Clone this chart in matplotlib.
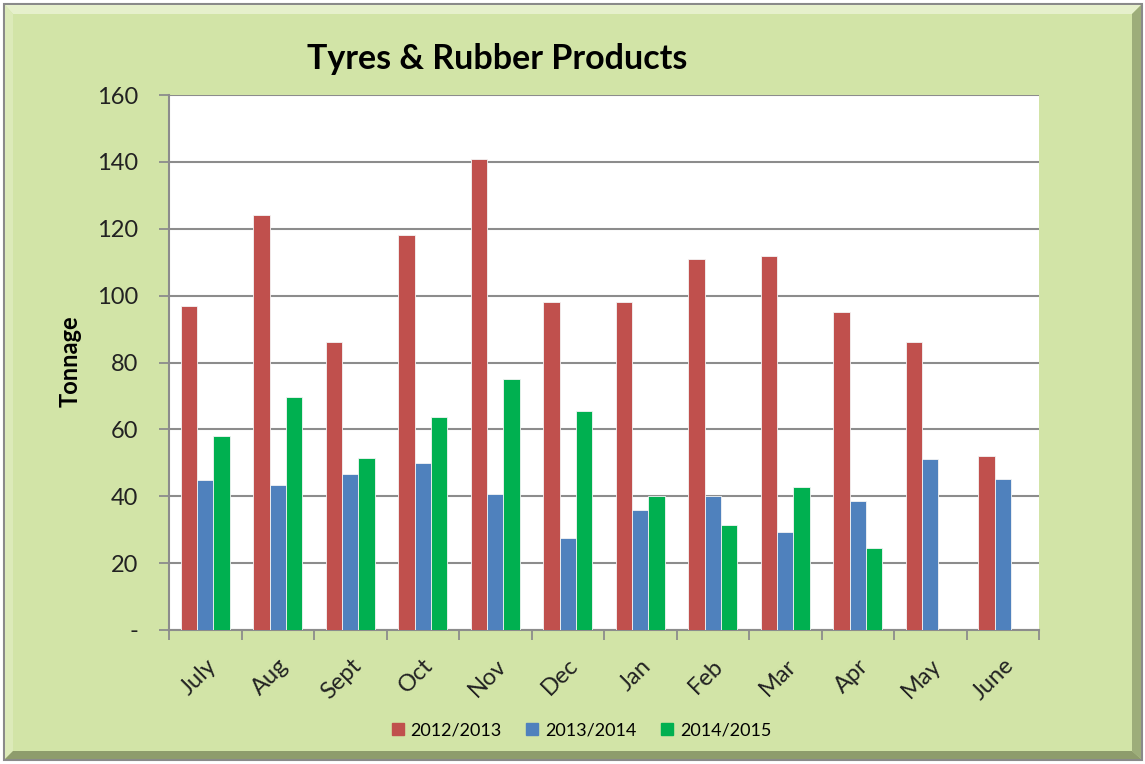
import matplotlib
matplotlib.use("Agg")
import matplotlib.pyplot as plt
from matplotlib.patches import Polygon, Rectangle
from matplotlib.lines import Line2D
import numpy as np

months = ["July", "Aug", "Sept", "Oct", "Nov", "Dec", "Jan", "Feb", "Mar", "Apr", "May", "June"]
s2012 = [97, 124, 86, 118, 141, 98, 98, 111, 112, 95, 86, 52]
s2013 = [45, 43.3, 46.7, 50, 40.6, 27.6, 36, 40, 29.2, 38.6, 51, 45.2]
s2014 = [58, 69.6, 51.4, 63.6, 75, 65.4, 40, 31.3, 42.8, 24.5, None, None]
series_names = ["2012/2013", "2013/2014", "2014/2015"]
colors = ["#C0504D", "#4F81BD", "#00B050"]
yticks = [0, 20, 40, 60, 80, 100, 120, 140, 160]
ytick_labels = ["-", "20", "40", "60", "80", "100", "120", "140", "160"]

W, H = 1145, 764
fig = plt.figure(figsize=(W / 100, H / 100), dpi=100)
fig.patch.set_facecolor("white")

def fx(px):
    return px / W

def fy(py):
    return 1 - py / H

bg = "#D2E4A7"
# frame
fig.patches.append(Rectangle((fx(4), fy(760)), fx(1138), 756 / H, transform=fig.transFigure,
                             facecolor=bg, edgecolor="#8A8A8A", lw=1.5, zorder=-10))
o = dict(L=5, T=5, R=1141, B=759)
i = dict(L=13, T=14, R=1132, B=751)
def poly(pts, color):
    fig.patches.append(Polygon([(fx(x), fy(y)) for x, y in pts], closed=True,
                               transform=fig.transFigure, facecolor=color, edgecolor="none", zorder=-9))
poly([(o['L'], o['T']), (o['R'], o['T']), (i['R'], i['T']), (i['L'], i['T'])], "#E6F0CC")
poly([(o['L'], o['T']), (i['L'], i['T']), (i['L'], i['B']), (o['L'], o['B'])], "#DCEAB9")
poly([(o['R'], o['T']), (o['R'], o['B']), (i['R'], i['B']), (i['R'], i['T'])], "#9DAD7A")
poly([(o['L'], o['B']), (i['L'], i['B']), (i['R'], i['B']), (o['R'], o['B'])], "#8E9C6C")

ax = fig.add_axes([fx(169), fy(630), fx(1039) - fx(169), (630 - 95) / H])
ax.set_facecolor("white")

x = np.arange(len(months))
bw = 0.223
for k, (vals, c) in enumerate(zip([s2012, s2013, s2014], colors)):
    xs = [xi + (k - 1) * bw for xi, v in zip(x, vals) if v is not None]
    vs = [v for v in vals if v is not None]
    ax.bar(xs, vs, width=bw, color=c, edgecolor="#F4F4F4", linewidth=0.6, zorder=3)

ax.set_xlim(-0.5, len(months) - 0.5)
ax.set_ylim(0, 160)
ax.set_yticks(yticks)
ax.set_yticklabels(ytick_labels, fontsize=17, family="Lato", color="#222222")
ax.yaxis.grid(True, color="#8C8C8C", lw=1.5, zorder=1)
ax.tick_params(axis="y", length=7, width=1.3, color="#8C8C8C", pad=15)

ax.set_xticks(x)
ax.set_xticklabels(months, rotation=45, ha="right", va="top", rotation_mode="anchor",
                   fontsize=17, family="Lato", color="#222222")
ax.tick_params(axis="x", which="major", length=0, pad=18)
ax.set_xticks(np.arange(-0.5, len(months)), minor=True)
ax.tick_params(axis="x", which="minor", length=7, width=1.3, color="#8C8C8C")

for s in ["top", "right"]:
    ax.spines[s].set_visible(False)
for s in ["left", "bottom"]:
    ax.spines[s].set_color("#8C8C8C")
    ax.spines[s].set_linewidth(1.5)

fig.text(fx(497), fy(59), "Tyres & Rubber Products", fontsize=24.5, fontweight="bold",
         family="Lato", ha="center", va="center", color="black")
fig.text(fx(70), fy(361), "Tonnage", fontsize=17, fontweight="bold", family="Lato",
         rotation=90, ha="center", va="center", color="black")

handles = [Line2D([], [], marker="s", ls="none", markersize=8, markerfacecolor=c,
                  markeredgecolor=c) for c in colors]
fig.legend(handles, series_names, loc="center", bbox_to_anchor=(fx(580), fy(730)), ncol=3,
           frameon=False, prop={"family": "Lato", "size": 13}, handletextpad=0.2,
           columnspacing=1.2, handlelength=1.0)

fig.savefig("out.png", dpi=100, facecolor=fig.get_facecolor())
